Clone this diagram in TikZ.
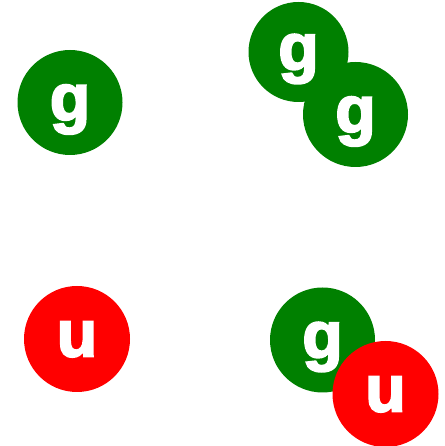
\documentclass[tikz,border=0pt]{standalone}
\usepackage{fontspec}
\setmainfont{Liberation Sans}
\newfontfamily\ballfont[FakeBold=3]{Liberation Sans Bold}
\usetikzlibrary{positioning}
\definecolor{ballgreen}{RGB}{0,128,0}
\definecolor{ballred}{RGB}{255,0,0}

\begin{document}
\begin{tikzpicture}[x=1pt,y=1pt,
  ball/.style={circle,inner sep=0pt,minimum size=105pt,text depth=0pt,text=white,font=\ballfont\fontsize{66}{66}\selectfont},
  gball/.style={ball,fill=ballgreen},
  uball/.style={ball,fill=ballred}]
\useasboundingbox (0,0) rectangle (444,446);
\node[gball] (g1) at (70,343.5) {g};
\node[gball,minimum size=100pt] (g2) at (298.5,394) {g};
\node[gball] (g3) at (355.5,331.5) {g};
\node[uball,minimum size=106pt] (u1) at (77,107) {u};
\node[gball] (g4) at (322.5,106) {g};
\node[uball,minimum size=106pt] (u2) at (385.5,52) {u};
\end{tikzpicture}
\end{document}
